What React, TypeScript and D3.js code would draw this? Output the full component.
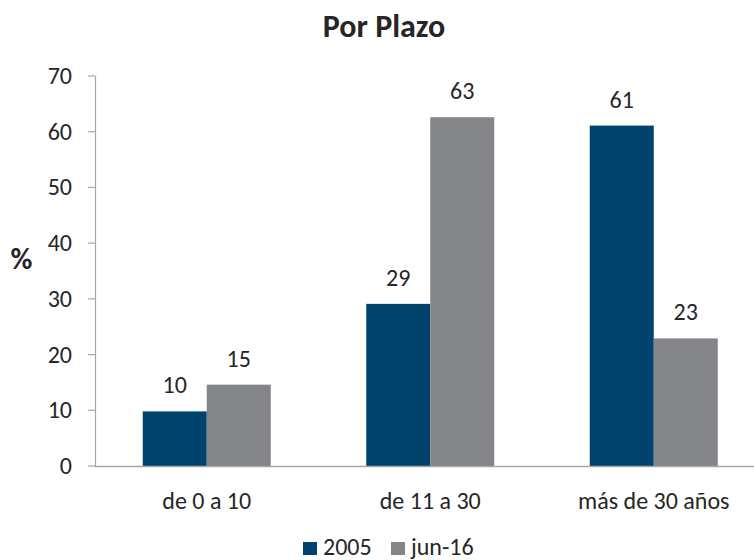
import React from "react";
import * as d3 from "d3";

const categories = ["de 0 a 10", "de 11 a 30", "más de 30 años"];
const seriesNames = ["2005", "jun-16"];
const values2005 = [9.8, 29.1, 61.1];
const valuesJun16 = [14.6, 62.6, 22.9];
const yTicks = [0, 10, 20, 30, 40, 50, 60, 70];
const colors = ["#00446d", "#838589"];

const W = 754;
const H = 560;
const FONT = "Carlito, Calibri, 'Open Sans', sans-serif";

export default function App() {
  const left = 95;
  const right = 765.5;
  const top = 76;
  const bottom = 466;

  const y = d3.scaleLinear().domain([0, 70]).range([bottom, top]);
  const x0 = d3.scaleBand<string>().domain(categories).range([left, right]).paddingInner(0).paddingOuter(0);
  const x1 = d3.scaleBand<string>().domain(seriesNames).range([0, x0.bandwidth()]).paddingInner(0).paddingOuter(0.746);

  const data = [values2005, valuesJun16];
  const textColor = "#262626";
  const axisColor = "#a6a6a6";
  const fs = 24;

  return (
    <svg width={W} height={H} style={{ position: "absolute", left: 0, top: 0 }} fontFamily={FONT}>
      <rect width={W} height={H} fill="#fff" />
      <text x={384} y={37} textAnchor="middle" fontSize={32} fontWeight="bold" fill={textColor}>Por Plazo</text>
      <text x={21.5} y={269} textAnchor="middle" fontSize={30} fontWeight="bold" fill={textColor}>%</text>

      {/* bars */}
      {seriesNames.map((s, si) =>
        data[si].map((v, ci) => {
          const bx = (x0(categories[ci]) as number) + (x1(s) as number);
          return (
            <g key={s + ci}>
              <rect x={bx} y={y(v)} width={x1.bandwidth()} height={bottom - y(v)} fill={colors[si]} />
              <text x={bx + x1.bandwidth() / 2} y={y(v) - 18} textAnchor="middle" fontSize={fs} fill={textColor}>
                {d3.format(".0f")(v)}
              </text>
            </g>
          );
        })
      )}

      {/* y axis */}
      <line x1={left + 0.5} x2={left + 0.5} y1={top} y2={bottom} stroke={axisColor} strokeWidth={1.2} />
      {yTicks.map((t) => (
        <g key={t}>
          <line x1={left - 7} x2={left} y1={y(t)} y2={y(t)} stroke={axisColor} strokeWidth={1.2} />
          <text x={left - 23} y={y(t) + 8} textAnchor="end" fontSize={fs} fill={textColor}>{t}</text>
        </g>
      ))}

      {/* x axis */}
      <line x1={left} x2={right} y1={bottom + 0.5} y2={bottom + 0.5} stroke={axisColor} strokeWidth={1.5} />
      {categories.map((c) => (
        <text key={c} x={(x0(c) as number) + x0.bandwidth() / 2} y={509} textAnchor="middle" fontSize={fs} fill={textColor}>
          {c}
        </text>
      ))}

      {/* legend */}
      {seriesNames.map((s, i) => {
        const lx = i === 0 ? 303 : 391;
        return (
          <g key={s}>
            <rect x={lx} y={542} width={14} height={13} fill={colors[i]} />
            <text x={lx + 20} y={555} fontSize={fs} fill={textColor}>{s}</text>
          </g>
        );
      })}
    </svg>
  );
}
